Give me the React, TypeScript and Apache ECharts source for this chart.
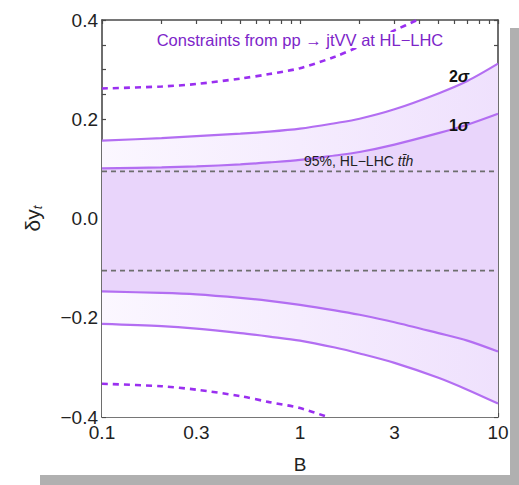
import React, { useEffect, useRef } from "react";
import * as echarts from "echarts";

// ---- data ----
const B_GRID = [0.1, 0.2, 0.3, 0.5, 0.7, 1, 1.5, 2, 3, 5, 7, 10];
const UPPER_2SIGMA = [0.157, 0.162, 0.166, 0.171, 0.175, 0.181, 0.192, 0.201, 0.22, 0.252, 0.277, 0.312];
const UPPER_1SIGMA = [0.101, 0.103, 0.105, 0.109, 0.113, 0.118, 0.127, 0.134, 0.149, 0.172, 0.189, 0.211];
const LOWER_1SIGMA = [-0.147, -0.15, -0.153, -0.16, -0.166, -0.174, -0.185, -0.194, -0.209, -0.231, -0.246, -0.268];
const LOWER_2SIGMA = [-0.2125, -0.217, -0.222, -0.231, -0.238, -0.246, -0.26, -0.272, -0.291, -0.321, -0.345, -0.373];

const DASH_UPPER_B = [0.1, 0.2, 0.3, 0.5, 0.7, 1, 1.5, 2, 3, 4];
const DASH_UPPER = [0.262, 0.266, 0.271, 0.282, 0.291, 0.303, 0.326, 0.347, 0.379, 0.402];
const DASH_LOWER_B = [0.1, 0.2, 0.3, 0.5, 0.7, 1, 1.4];
const DASH_LOWER = [-0.333, -0.338, -0.345, -0.358, -0.37, -0.382, -0.401];

const TTH_BAND = [0.095, -0.105];
const B_RANGE = [0.1, 10];

const X_TICK_LABELS = [0.1, 0.3, 1, 3, 10];
const X_MINOR_TICKS = [0.1, 0.2, 0.3, 0.4, 0.5, 0.6, 0.7, 0.8, 0.9, 1, 2, 3, 4, 5, 6, 7, 8, 9, 10];
const Y_LABEL_STEP = 0.2;
const Y_TICK_STEP = 0.05;

const FONT = '"Liberation Sans", Arial, sans-serif';
const SOLID = "#b36ef2";
const DASHED = "#9a2ff0";
const GRAY = "#6e6e6e";
const AXIS = "#4a4a4a";

const pairs = (xs: number[], ys: number[]) => xs.map((x, i) => [x, ys[i]]);

export default function App() {
  const ref = useRef<HTMLDivElement>(null);
  useEffect(() => {
    if (!ref.current) return;
    const chart = echarts.init(ref.current, undefined, { renderer: "svg" });
    const lightGrad = new echarts.graphic.LinearGradient(0, 0, 1, 0, [
      { offset: 0, color: "#fbf7ff" },
      { offset: 1, color: "#efe1fd" },
    ]);
    const fmtY = (v: number) => {
      const k = Math.round(v / Y_TICK_STEP);
      const per = Math.round(Y_LABEL_STEP / Y_TICK_STEP);
      if (k % per !== 0) return "";
      const s = Math.abs(k * Y_TICK_STEP).toFixed(1);
      return k < 0 ? "\u2212" + s : s;
    };
    const lineBase = {
      type: "line",
      xAxisIndex: 0,
      yAxisIndex: 0,
      symbol: "none",
      smooth: 0.3,
      silent: true,
    };
    const option: any = {
      animation: false,
      backgroundColor: "#ffffff",
      grid: { left: 102, top: 20, width: 396, height: 397, containLabel: false },
      xAxis: [
        {
          type: "log",
          logBase: 10,
          min: B_RANGE[0],
          max: B_RANGE[1],
          position: "bottom",
          axisLine: { show: false, onZero: false },
          axisTick: { show: false },
          axisLabel: { show: false },
          splitLine: { show: false },
        },
        {
          type: "value",
          min: Math.log10(B_RANGE[0]),
          max: Math.log10(B_RANGE[1]),
          position: "bottom",
          name: "B",
          nameLocation: "middle",
          nameGap: 38,
          nameTextStyle: { fontFamily: FONT, fontSize: 19, color: "#222" },
          axisLine: { show: true, onZero: false, lineStyle: { color: AXIS, width: 1.6 } },
          axisTick: {
            show: true,
            inside: true,
            length: 4,
            customValues: X_MINOR_TICKS.map((v) => Math.log10(v)),
            lineStyle: { color: AXIS, width: 1.2 },
          },
          axisLabel: {
            show: true,
            margin: 6,
            customValues: X_TICK_LABELS.map((v) => Math.log10(v)),
            formatter: (v: number) => String(Number(Math.pow(10, v).toPrecision(2))),
            fontFamily: FONT,
            fontSize: 19,
            color: "#222",
          },
          splitLine: { show: false },
        },
        {
          type: "value",
          min: Math.log10(B_RANGE[0]),
          max: Math.log10(B_RANGE[1]),
          position: "top",
          axisLine: { show: true, onZero: false, lineStyle: { color: AXIS, width: 1.6 } },
          axisTick: {
            show: true,
            inside: true,
            length: 4,
            customValues: X_MINOR_TICKS.map((v) => Math.log10(v)),
            lineStyle: { color: AXIS, width: 1.2 },
          },
          axisLabel: { show: false },
          splitLine: { show: false },
        },
      ],
      yAxis: [
        {
          type: "value",
          min: -0.4,
          max: 0.4,
          interval: Y_TICK_STEP,
          position: "left",
          name: "δy{sub|t}",
          nameLocation: "middle",
          nameGap: 58,
          nameRotate: 90,
          nameTextStyle: {
            fontFamily: FONT,
            fontSize: 21,
            color: "#222",
            rich: { sub: { fontFamily: FONT, fontSize: 13, fontStyle: "italic", color: "#222", verticalAlign: "bottom", padding: [10, 0, 0, 0] } },
          },
          axisLine: { show: true, onZero: false, lineStyle: { color: AXIS, width: 1.6 } },
          axisTick: { show: true, inside: true, length: 4, lineStyle: { color: AXIS, width: 1.2 } },
          axisLabel: { show: true, margin: 4, formatter: fmtY, fontFamily: FONT, fontSize: 19, color: "#222" },
          splitLine: { show: false },
        },
        {
          type: "value",
          min: -0.4,
          max: 0.4,
          interval: Y_TICK_STEP,
          position: "right",
          axisLine: { show: true, onZero: false, lineStyle: { color: AXIS, width: 1.6 } },
          axisTick: { show: true, inside: true, length: 4, lineStyle: { color: AXIS, width: 1.2 } },
          axisLabel: { show: false },
          splitLine: { show: false },
        },
      ],
      series: [
        {
          ...lineBase,
          name: "2σ upper",
          data: pairs(B_GRID, UPPER_2SIGMA),
          lineStyle: { color: SOLID, width: 2.2 },
          areaStyle: { origin: "start", color: lightGrad, opacity: 1 },
          z: 2,
        },
        {
          ...lineBase,
          name: "1σ upper",
          data: pairs(B_GRID, UPPER_1SIGMA),
          lineStyle: { color: SOLID, width: 2.2 },
          areaStyle: { origin: "start", color: "#e9d5fb", opacity: 1 },
          z: 3,
        },
        {
          ...lineBase,
          name: "1σ lower",
          data: pairs(B_GRID, LOWER_1SIGMA),
          lineStyle: { color: SOLID, width: 2.2 },
          areaStyle: { origin: "start", color: lightGrad, opacity: 1 },
          z: 4,
        },
        {
          ...lineBase,
          name: "2σ lower",
          data: pairs(B_GRID, LOWER_2SIGMA),
          lineStyle: { color: SOLID, width: 2.2 },
          areaStyle: { origin: "start", color: "#ffffff", opacity: 1 },
          z: 5,
        },
        ...TTH_BAND.map((v, i) => ({
          ...lineBase,
          smooth: false,
          name: "tth " + i,
          data: pairs(B_RANGE, [v, v]),
          lineStyle: { color: GRAY, width: 1.7, type: [5, 4] },
          z: 6,
        })),
        {
          ...lineBase,
          name: "dashed upper",
          data: pairs(DASH_UPPER_B, DASH_UPPER),
          lineStyle: { color: DASHED, width: 2.6, type: [6, 5] },
          z: 6,
        },
        {
          ...lineBase,
          name: "dashed lower",
          data: pairs(DASH_LOWER_B, DASH_LOWER),
          lineStyle: { color: DASHED, width: 2.6, type: [6, 5] },
          z: 6,
        },
      ],
      graphic: [
        { type: "rect", shape: { x: 510, y: 28, width: 9, height: 457 }, style: { fill: "#b0b0b0" }, z: 0 },
        { type: "rect", shape: { x: 40, y: 475, width: 479, height: 10 }, style: { fill: "#b0b0b0" }, z: 0 },
        {
          type: "text",
          z: 100,
          style: {
            x: 300,
            y: 40,
            text: "Constraints from pp \u2192 jtVV at HL\u2212LHC",
            font: `16.5px ${FONT}`,
            lineHeight: 16,
            fill: "#7d25c9",
            align: "center",
            verticalAlign: "middle",
            backgroundColor: "#ffffff",
            padding: [0, 5],
          },
        },
        {
          type: "text",
          z: 100,
          style: {
            x: 459,
            y: 76,
            text: "{b|2}{s|σ}",
            align: "center",
            verticalAlign: "middle",
            rich: {
              b: { font: `bold 16px ${FONT}`, fill: "#111" },
              s: { font: `italic bold 17px ${FONT}`, fill: "#111" },
            },
          },
        },
        {
          type: "text",
          z: 100,
          style: {
            x: 459,
            y: 125,
            text: "{b|1}{s|σ}",
            align: "center",
            verticalAlign: "middle",
            rich: {
              b: { font: `bold 16px ${FONT}`, fill: "#111" },
              s: { font: `italic bold 17px ${FONT}`, fill: "#111" },
            },
          },
        },
        {
          type: "text",
          z: 100,
          style: {
            x: 304,
            y: 161,
            text: "{n|95%, HL\u2212LHC }{i|tt\u0304h}",
            align: "left",
            verticalAlign: "middle",
            rich: {
              n: { font: `14px ${FONT}`, fill: "#222" },
              i: { font: `italic 14px ${FONT}`, fill: "#222" },
            },
          },
        },
      ],
    };
    chart.setOption(option);
    return () => chart.dispose();
  }, []);
  return (
    <div
      ref={ref}
      style={{ position: "fixed", left: 0, top: 0, width: 519, height: 485 }}
    />
  );
}
